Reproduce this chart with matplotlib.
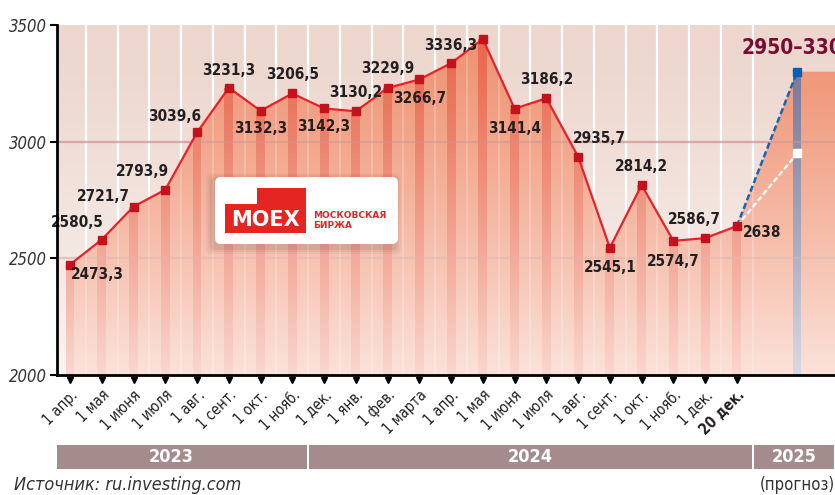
import numpy as np
import matplotlib.pyplot as plt
import matplotlib.patches as mpatches
import matplotlib.transforms as mtransforms

# MOEX index, first day of each month (2023-2024) + 20 Dec 2024
dates = ['1 апр.', '1 мая', '1 июня', '1 июля', '1 авг.', '1 сент.', '1 окт.',
         '1 нояб.', '1 дек.', '1 янв.', '1 фев.', '1 марта', '1 апр.', '1 мая',
         '1 июня', '1 июля', '1 авг.', '1 сент.', '1 окт.', '1 нояб.', '1 дек.',
         '20 дек.']
values = [2473.3, 2580.5, 2721.7, 2793.9, 3039.6, 3231.3, 3132.3, 3206.5,
          3142.3, 3130.2, 3229.9, 3266.7, 3336.3, 3440.0, 3141.4, 3186.2,
          2935.7, 2545.1, 2814.2, 2574.7, 2586.7, 2638.0]
show_label = [True] * 13 + [False] + [True] * 8
forecast_lo = 2950
forecast_hi = 3300
years = ['2023', '2024', '2025']
months_in_year = [8, 14]

# label offsets in pixels (dx, dy)
offsets = [(27, -10), (-24, 17), (-30, 10), (-23, 18), (-22, 16), (0, 17),
           (0, -18), (0, 19), (0, -18), (0, 19), (0, 20), (0, -19), (0, 18),
           (0, 0), (0, -20), (0, 19), (21, 18), (0, -20), (0, 19), (0, -21),
           (-11, 19), (25, -6)]

NARROW = dict(family='DejaVu Sans', stretch='condensed')
W, H = 835, 495
dark = '#231f20'

fig = plt.figure(figsize=(W / 100, H / 100), dpi=100)
ax = fig.add_axes([57 / W, 1 - 375 / H, 1 - 57 / W, 350 / H])

x = np.arange(len(values))
fx = x[-1] + 1.9
xmin, xmax = -0.41, 24.09
ymin, ymax = 2000, 3500

# background
bg = np.array([[236, 214, 205]]) / 255.0
ax.imshow(np.tile(bg, (2, 1, 1)), extent=[xmin, xmax, ymin, ymax],
          aspect='auto', zorder=0)

# white column separators and grid
ax.vlines(x + 0.5, ymin, ymax, color='white', lw=1.6, zorder=1)
for g in (2500, 3000):
    ax.axhline(g, color='#d3a9a8', lw=1.6, zorder=1)

# filled area under the line + forecast
verts = [(0, ymin)] + list(zip(x, values)) + [(fx, forecast_hi), (xmax, forecast_hi), (xmax, ymin)]
ax.add_patch(mpatches.Polygon(verts, closed=True, facecolor='#ef9171',
                              edgecolor='none', zorder=2))
ax.vlines(x + 0.5, ymin, ymax, color='white', lw=1.4, alpha=0.22, zorder=2.2)

# vertical bars
ax.bar(x, np.array(values) - ymin, bottom=ymin, width=0.28, color='#e8654a', zorder=3)
ax.bar([fx], [forecast_hi - ymin], bottom=ymin, width=0.24, color='#737093', zorder=3)
for g in (2500, 3000):
    ax.axhline(g, color='#c27c78', lw=1.6, alpha=0.45, zorder=3.5)

# white fade towards the bottom
fade = np.ones((256, 1, 4))
fade[:, 0, 3] = np.linspace(0.0, 0.78, 256) ** 1.2
ax.imshow(fade, extent=[xmin, xmax, ymin, ymax], aspect='auto', zorder=4)

# main line
ax.plot(x, values, color='#e8212a', lw=1.6, zorder=5)
ax.plot(x, values, 's', ms=6.3, color='#c3121c', zorder=6)

# forecast
ax.plot([x[-1], fx], [values[-1], forecast_hi], color='#1565b5', lw=1.8,
        ls=(0, (2.5, 1.2)), zorder=5)
ax.plot([x[-1], fx], [values[-1], forecast_lo], color='white', lw=1.6,
        ls=(0, (2.5, 1.2)), zorder=5)
ax.plot([fx], [forecast_hi], 's', ms=6.3, color='#0a5fb4', zorder=6)
ax.plot([fx], [forecast_lo], 's', ms=6.3, color='white', zorder=6)
ax.annotate(f'{forecast_lo}–{forecast_hi}', xy=(fx, forecast_hi), xytext=(-56, 24),
            textcoords='offset pixels', ha='left', va='center', fontsize=15,
            fontweight='bold', color='#780c32', annotation_clip=False,
            zorder=7, **NARROW)

# value labels
for i, v in enumerate(values):
    if not show_label[i]:
        continue
    txt = f'{v:.1f}'.replace('.', ',') if i < len(values) - 1 else f'{v:.0f}'
    ax.annotate(txt, xy=(i, v), xytext=offsets[i], textcoords='offset pixels',
                ha='center', va='center', fontsize=11, fontweight='bold',
                color=dark, zorder=7, **NARROW)

ax.set_xlim(xmin, xmax)
ax.set_ylim(ymin, ymax)

# axes styling
for s in ('top', 'right'):
    ax.spines[s].set_visible(False)
for s in ('left', 'bottom'):
    ax.spines[s].set_linewidth(2)
    ax.spines[s].set_color('black')
    ax.spines[s].set_zorder(8)

ax.set_yticks([2000, 2500, 3000, 3500])
ax.set_yticklabels(['2000', '2500', '3000', '3500'], fontsize=12, style='italic',
                   color='#333333', **NARROW)
ax.tick_params(axis='y', length=5, width=1.5, pad=2)

ax.set_xticks(x)
ax.set_xticklabels(dates, rotation=45, ha='right', rotation_mode='anchor',
                   fontsize=10.5, color=dark, **NARROW)
ax.get_xticklabels()[-1].set_fontweight('bold')
shift = mtransforms.ScaledTranslation(7 / 100, 0, fig.dpi_scale_trans)
for lab in ax.get_xticklabels():
    lab.set_transform(lab.get_transform() + shift)
ax.tick_params(axis='x', length=0, pad=9)
ax.set_xticks(x + 0.5, minor=True)
ax.tick_params(axis='x', which='minor', direction='in', length=4, width=1.5, color='black')

ax.plot(x, [-0.013] * len(x), 'v', ms=5, color='black',
        transform=ax.get_xaxis_transform(), clip_on=False, zorder=9)

# year bars
yb = mtransforms.blended_transform_factory(ax.transData, fig.transFigure)
edges = [xmin, months_in_year[0] - 0.5, sum(months_in_year) - 0.5, xmax]
for k, yr in enumerate(years):
    left = edges[k] + (0.03 if k else 0)
    ax.add_patch(mpatches.Rectangle((left, 1 - 469 / H), edges[k + 1] - left - 0.03,
                                    24 / H, transform=yb, facecolor='#a48c8c',
                                    edgecolor='none', clip_on=False))
    cx = (edges[k] + edges[k + 1]) / 2 - (0.35 if k == 0 else 0)
    ax.text(cx, 1 - 457 / H, yr, transform=yb, ha='center', va='center',
            fontsize=13, fontweight='bold', color='white', **NARROW)

fig.text(14 / W, 1 - 485 / H, 'Источник: ru.investing.com', fontsize=13,
         style='italic', color='#333333', va='center', **NARROW)
fig.text(1.0, 1 - 485 / H, '(прогноз)', fontsize=12,
         color='#333333', va='center', ha='right', **NARROW)

# MOEX logo (pixel coordinates inside a small axes)
lx0, ly0, lx1, ly1 = 200, 168, 412, 256
lax = fig.add_axes([lx0 / W, 1 - ly1 / H, (lx1 - lx0) / W, (ly1 - ly0) / H])
lax.set_xlim(lx0, lx1)
lax.set_ylim(ly1, ly0)
lax.axis('off')
for pad, a in ((7, 0.06), (5, 0.08), (3, 0.10)):
    lax.add_patch(mpatches.FancyBboxPatch((215 - pad - 2, 177 - pad + 3), 183 + 2 * pad - 2, 67 + 2 * pad,
                                          boxstyle='round,pad=0,rounding_size=6',
                                          facecolor='#7a4a40', edgecolor='none', alpha=a))
lax.add_patch(mpatches.FancyBboxPatch((215, 177), 183, 67,
                                      boxstyle='round,pad=0,rounding_size=6',
                                      facecolor='white', edgecolor='none'))
lax.add_patch(mpatches.Polygon([(225, 233), (225, 204), (257, 204), (257, 188),
                                (306, 188), (306, 233)], closed=True,
                               facecolor='#e52521', edgecolor='none'))
lax.text(265.5, 220, 'MOEX', ha='center', va='center', fontsize=15,
         fontweight='bold', color='white', family='DejaVu Sans')
lax.text(313, 216, 'МОСКОВСКАЯ', ha='left', va='center', fontsize=6.5,
         fontweight='bold', color='#e52521', family='DejaVu Sans')
lax.text(313, 225, 'БИРЖА', ha='left', va='center', fontsize=6.5,
         fontweight='bold', color='#e52521', family='DejaVu Sans')

fig.savefig('out.png', dpi=100)
